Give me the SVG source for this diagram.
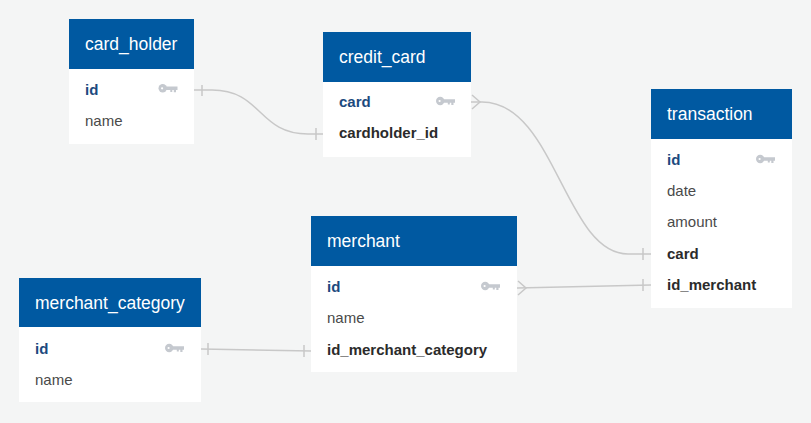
<svg xmlns="http://www.w3.org/2000/svg" width="811" height="423" viewBox="0 0 811 423">
<style>
.bg{fill:#f4f5f5}
.body{fill:#ffffff}
.head{fill:#0059a1}
.title{font-family:"Liberation Sans",Arial,sans-serif;font-size:17.5px;fill:#ffffff}
.f{font-family:"Liberation Sans",Arial,sans-serif;font-size:15px;fill:#4a4a4a}
.pk{font-weight:bold;fill:#1c4a7e}
.fk{font-weight:bold;fill:#2b2b2b}
.c{fill:none;stroke:#c8c8c8;stroke-width:1.5}
.key{fill:#c5c9cf}
</style>
<defs>
<g id="key">
<circle cx="4.2" cy="4" r="4.2" class="key"/>
<circle cx="3.6" cy="4" r="1.1" fill="#ffffff"/>
<path d="M7,2.2 H19 V5.8 H17.5 V8 H15.3 V5.8 H13.8 V7.6 H11.8 V5.8 H7 Z" class="key"/>
</g>
</defs>
<rect class="bg" x="0" y="0" width="811" height="423"/>

<g id="connectors">
<path class="c" d="M194,90 L212,90 C262,90 258,134 308,134 L323,134"/>
<path class="c" d="M202,85 V96 M316,128 V140"/>
<path class="c" d="M471,102 L482,102 C555,102 565,254 628,254 L651,254"/>
<path class="c" d="M472,95 L480,102 L472,109 M643,248 V260"/>
<path class="c" d="M517,288 L651,285"/>
<path class="c" d="M518,281 L526,288 L518,295 M643,279 V291"/>
<path class="c" d="M201,349 L311,351"/>
<path class="c" d="M208,343 V355 M304,345 V357"/>
</g>

<g id="card_holder">
<rect class="body" x="69" y="19" width="125" height="125"/>
<rect class="head" x="69" y="19" width="125" height="50"/>
<text class="title" x="85" y="50">card_holder</text>
<text class="f pk" x="85" y="95">id</text>
<use href="#key" x="158.5" y="84.3"/>
<text class="f" x="85" y="126">name</text>
</g>

<g id="credit_card">
<rect class="body" x="323" y="32" width="148" height="125"/>
<rect class="head" x="323" y="32" width="148" height="50"/>
<text class="title" x="339" y="63">credit_card</text>
<text class="f pk" x="339" y="107">card</text>
<use href="#key" x="436" y="97"/>
<text class="f fk" x="339" y="138">cardholder_id</text>
</g>

<g id="transaction">
<rect class="body" x="651" y="89" width="141" height="219"/>
<rect class="head" x="651" y="89" width="141" height="50"/>
<text class="title" x="667" y="120">transaction</text>
<text class="f pk" x="667" y="165">id</text>
<use href="#key" x="756" y="155"/>
<text class="f" x="667" y="196">date</text>
<text class="f" x="667" y="227">amount</text>
<text class="f fk" x="667" y="259">card</text>
<text class="f fk" x="667" y="290">id_merchant</text>
</g>

<g id="merchant">
<rect class="body" x="311" y="216" width="206" height="156"/>
<rect class="head" x="311" y="216" width="206" height="50"/>
<text class="title" x="327" y="247">merchant</text>
<text class="f pk" x="327" y="292">id</text>
<use href="#key" x="481" y="282"/>
<text class="f" x="327" y="323">name</text>
<text class="f fk" x="327" y="355">id_merchant_category</text>
</g>

<g id="merchant_category">
<rect class="body" x="19" y="278" width="182" height="124"/>
<rect class="head" x="19" y="278" width="182" height="49"/>
<text class="title" x="35" y="309">merchant_category</text>
<text class="f pk" x="35" y="354">id</text>
<use href="#key" x="165" y="344"/>
<text class="f" x="35" y="385">name</text>
</g>
</svg>
